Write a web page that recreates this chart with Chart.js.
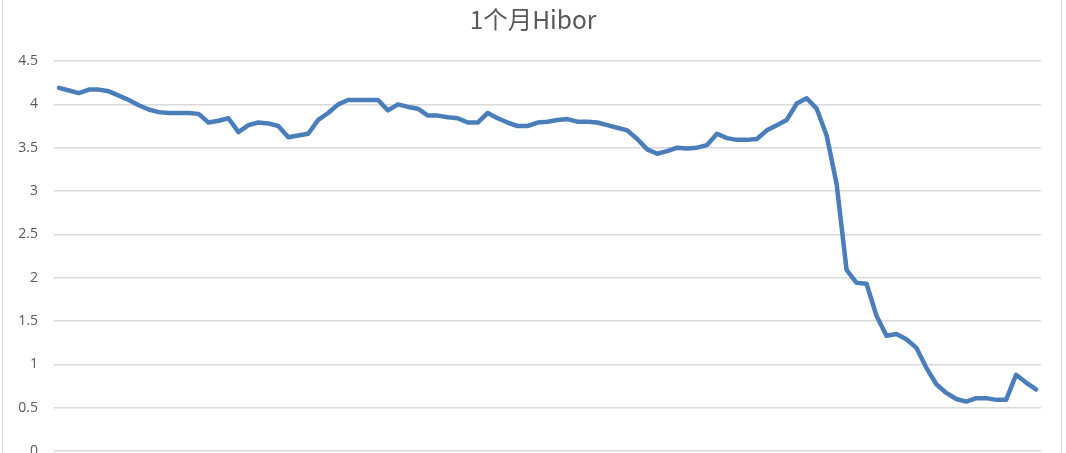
<!DOCTYPE html>
<html>
<head>
<meta charset="utf-8">
<script src="https://cdn.jsdelivr.net/npm/chart.js@4/dist/chart.umd.min.js"></script>
<style>
  html,body{margin:0;padding:0;background:#fff;overflow:hidden;width:1066px;height:453px}
  #frame{position:absolute;left:2px;top:-6px;width:1058px;height:600px;border:1.5px solid #d9d9d9}
  #c{position:absolute;left:0;top:0}
</style>
</head>
<body>
<div id="frame"></div>
<canvas id="c" width="1066" height="480"></canvas>
<script>
// 1个月Hibor，按周读数（图上没有日期标签，只用序号）
const hibor=[4.19,4.16,4.13,4.17,4.17,4.15,4.10,4.05,3.99,3.94,
  3.91,3.90,3.90,3.90,3.89,3.79,3.81,3.84,3.68,3.76,
  3.79,3.78,3.75,3.62,3.64,3.66,3.82,3.90,4.00,4.05,
  4.05,4.05,4.05,3.93,4.00,3.97,3.95,3.87,3.87,3.85,
  3.84,3.79,3.79,3.90,3.84,3.79,3.75,3.75,3.79,3.80,
  3.82,3.83,3.80,3.80,3.79,3.76,3.73,3.70,3.60,3.48,
  3.43,3.46,3.50,3.49,3.50,3.53,3.66,3.61,3.59,3.59,
  3.60,3.70,3.76,3.82,4.01,4.07,3.95,3.64,3.08,2.09,
  1.94,1.93,1.56,1.33,1.35,1.29,1.19,0.96,0.77,0.67,
  0.60,0.57,0.61,0.61,0.59,0.59,0.88,0.79,0.71];
const labels=hibor.map((v,i)=>String(i+1));
const yTicks=[0,0.5,1,1.5,2,2.5,3,3.5,4,4.5];
const title='1个月Hibor';

// 标题按整张图居中（Excel 的做法），不按绘图区
const pageTitle={id:'pageTitle',afterDraw(chart){
  const ctx=chart.ctx;
  ctx.save();
  ctx.fillStyle='#595959';
  ctx.font='24.5px "Noto Sans CJK SC","Noto Sans",sans-serif';
  ctx.textAlign='center';ctx.textBaseline='middle';
  ctx.fillText(title,chart.width/2,20);
  ctx.restore();
}};

new Chart(document.getElementById('c'),{
  type:'line',
  data:{labels,datasets:[{label:title,data:hibor,borderColor:'#4a7ebb',borderWidth:4.5,
    pointRadius:0,tension:0,borderJoinStyle:'round',borderCapStyle:'round',fill:false}]},
  options:{
    responsive:false,animation:false,
    layout:{padding:{top:61,right:25,bottom:29,left:0}},
    plugins:{legend:{display:false},tooltip:{enabled:false},title:{display:false}},
    scales:{
      x:{display:false,offset:true},
      y:{min:0,max:4.5,
        afterBuildTicks(ax){ax.ticks=yTicks.map(v=>({value:v}));},
        afterFit(ax){ax.width=54;},
        border:{display:false},
        grid:{color:'#d9d9d9',lineWidth:1.5,drawTicks:false},
        ticks:{color:'#595959',padding:16,font:{family:'"Open Sans",sans-serif',size:14},
          callback:v=>String(v)}
      }
    }
  },
  plugins:[pageTitle]
});
</script>
</body>
</html>
